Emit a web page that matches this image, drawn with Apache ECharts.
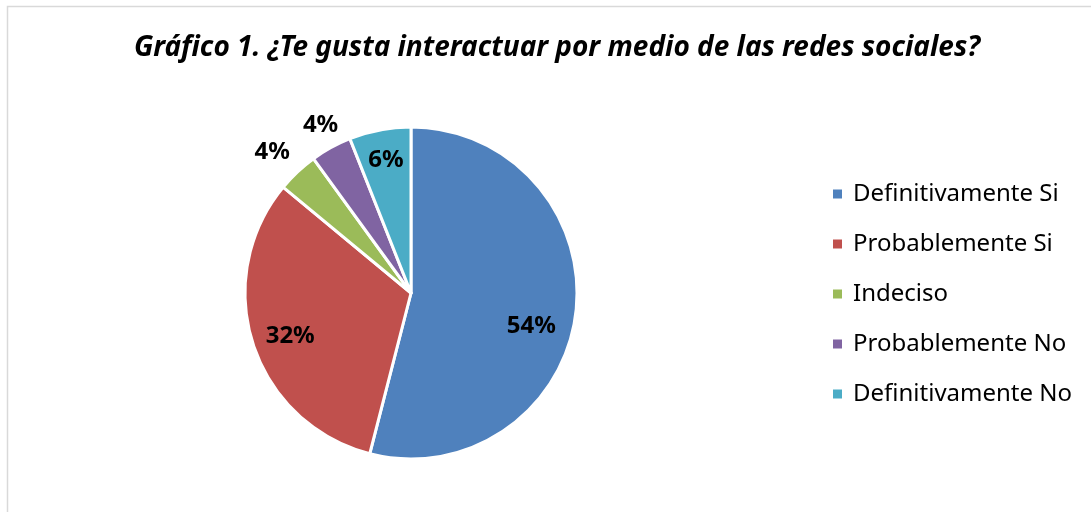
<!DOCTYPE html>
<html>
<head>
<meta charset="utf-8">
<script src="https://cdn.jsdelivr.net/npm/echarts@6/dist/echarts.min.js"></script>
<style>
  html, body { margin: 0; padding: 0; background: #fff; }
  #chart { width: 1091px; height: 512px; }
</style>
</head>
<body>
<div id="chart"></div>
<script>
// respuestas de la encuesta
const categories = ["Definitivamente Si", "Probablemente Si", "Indeciso", "Probablemente No", "Definitivamente No"];
const values = [54, 32, 4, 4, 6];
const colors = ["#4F81BD", "#C0504D", "#9BBB59", "#8064A2", "#4BACC6"];
// nudges so labels sit where Excel's "best fit" put them
const labelShift = [[35, 22], [-39, 17], [-80, -78], [-49, -92], [-9, -48]];

const chart = echarts.init(document.getElementById("chart"));
chart.setOption({
  backgroundColor: "#fff",
  animation: false,
  title: {
    text: "Gráfico 1. ¿Te gusta interactuar por medio de las redes sociales?",
    left: 552,
    top: 29,
    textAlign: "center",
    textStyle: {
      fontFamily: "Noto Sans",
      fontStyle: "italic",
      fontWeight: "bold",
      fontSize: 28,
      color: "#000"
    }
  },
  graphic: [{
    type: "rect",
    shape: { x: 7.5, y: 6.5, width: 1200, height: 600 },
    style: { fill: "none", stroke: "#d9d9d9", lineWidth: 1.5 },
    silent: true
  }],
  legend: {
    orient: "vertical",
    left: 826,
    top: 177,
    itemWidth: 11,
    itemHeight: 11,
    itemGap: 26,
    icon: "rect",
    data: categories,
    textStyle: {
      fontFamily: "Noto Sans",
      fontSize: 24,
      lineHeight: 24,
      color: "#000",
      padding: [0, 0, 0, 5]
    }
  },
  series: [{
    type: "pie",
    center: [411, 293],
    radius: 166,
    startAngle: 90,
    clockwise: true,
    avoidLabelOverlap: false,
    itemStyle: { borderColor: "#fff", borderWidth: 3 },
    label: {
      show: true,
      position: "inside",
      formatter: "{c}%",
      fontFamily: "Noto Sans",
      fontWeight: "bold",
      fontSize: 24,
      color: "#000"
    },
    labelLine: { show: false },
    labelLayout: function (p) {
      const s = labelShift[p.dataIndex];
      return { dx: s[0], dy: s[1] };
    },
    data: categories.map((name, i) => ({
      name: name,
      value: values[i],
      itemStyle: { color: colors[i] }
    }))
  }]
});
</script>
</body>
</html>
